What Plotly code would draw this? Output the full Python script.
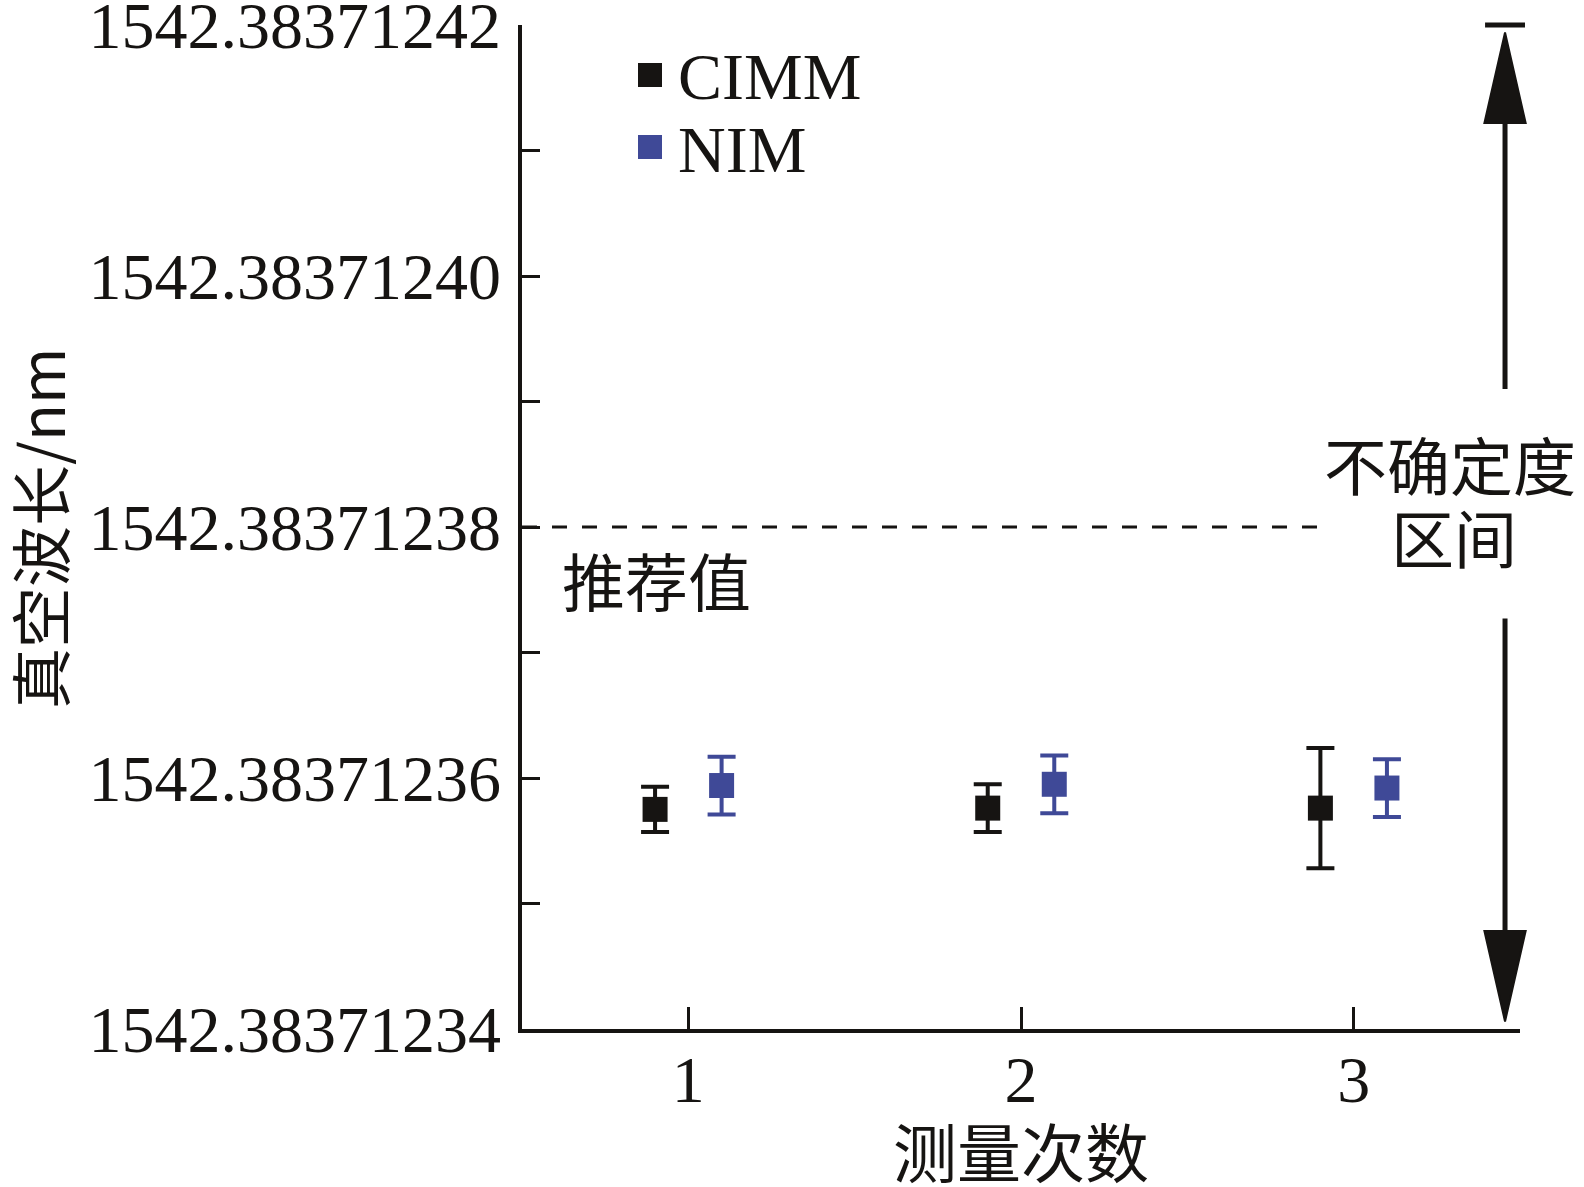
import plotly.graph_objects as go

# ---------------- data ----------------
BASE = 1542.38371234          # nm, bottom of axis
UNIT = 1e-8                   # nm per plotting unit
runs = [1, 2, 3]
cimm_values = [1542.3837123575, 1542.3837123576, 1542.3837123576]
cimm_errors = [0.0000000018, 0.0000000019, 0.0000000048]
nim_values = [1542.3837123594, 1542.3837123595, 1542.3837123592]
nim_errors = [0.0000000023, 0.0000000023, 0.0000000023]
recommended = 1542.38371238
unc_low, unc_high = 1542.38371234, 1542.38371242
ytick_values = [1542.38371234, 1542.38371235, 1542.38371236, 1542.38371237,
                1542.38371238, 1542.38371239, 1542.38371240, 1542.38371241,
                1542.38371242]
ytick_labels = ["1542.38371234", "", "1542.38371236", "", "1542.38371238", "",
                "1542.38371240", "", "1542.38371242"]
xtick_labels = ["1", "2", "3"]
series_names = ["CIMM", "NIM"]

def to_u(v):
    return round((v - BASE) / UNIT, 6)

BLACK = "#161412"
BLUE = "#3f4997"
SERIF = "Liberation Serif, 'Times New Roman', 'Noto Sans CJK SC', serif"
CJK = "'Noto Sans CJK SC', 'Liberation Serif', serif"
FS = 66

W, H = 1584, 1187
ML, MR, MT, MB = 522, 64, 25, 158
PW, PH = W - ML - MR, H - MT - MB

XMIN, XMAX = 0.5, 3.5
YMIN, YMAX = to_u(unc_low), to_u(unc_high)

fig = go.Figure()
fig.add_trace(go.Scatter(
    x=[r - 0.1 for r in runs], y=[to_u(v) for v in cimm_values], mode="markers", name=series_names[0],
    marker=dict(symbol="square", size=25, color=BLACK),
    error_y=dict(type="data", array=[round(e / UNIT, 6) for e in cimm_errors], color=BLACK, thickness=4, width=14),
    cliponaxis=False, showlegend=False))
fig.add_trace(go.Scatter(
    x=[r + 0.1 for r in runs], y=[to_u(v) for v in nim_values], mode="markers", name=series_names[1],
    marker=dict(symbol="square", size=25, color=BLUE),
    error_y=dict(type="data", array=[round(e / UNIT, 6) for e in nim_errors], color=BLUE, thickness=4, width=14),
    cliponaxis=False, showlegend=False))

def px(x):   # data x -> paper
    return (x - XMIN) / (XMAX - XMIN)

def py(y):   # data y (units) -> paper
    return (y - YMIN) / (YMAX - YMIN)

def ppx(p):  # pixel x -> paper
    return (p - ML) / PW

def ppy(p):  # pixel y (from top) -> paper
    return 1 - (p - MT) / PH

shapes = []
# recommended value dashed line
shapes.append(dict(type="line", xref="x", yref="y", x0=XMIN, x1=2.91,
                   y0=to_u(recommended), y1=to_u(recommended),
                   line=dict(color=BLACK, width=3, dash="15px,15px")))
# uncertainty interval arrow
ax_ = 3.455
hw = 0.062   # head half width (x units)
hl = 0.72    # head length (y units)
top = YMAX - 0.06
bot = YMIN + 0.06
shapes.append(dict(type="line", xref="paper", yref="paper", x0=px(ax_ - 0.06), x1=px(ax_ + 0.06),
                   y0=py(YMAX), y1=py(YMAX), line=dict(color=BLACK, width=5)))
shapes.append(dict(type="line", xref="paper", yref="paper", x0=px(ax_), x1=px(ax_),
                   y0=py(top - hl + 0.05), y1=py(5.1), line=dict(color=BLACK, width=5)))
shapes.append(dict(type="line", xref="paper", yref="paper", x0=px(ax_), x1=px(ax_),
                   y0=py(3.27), y1=py(bot + hl - 0.05), line=dict(color=BLACK, width=5)))
shapes.append(dict(type="path", xref="paper", yref="paper",
                   path=f"M {px(ax_)},{py(top)} L {px(ax_ + hw)},{py(top - hl)} L {px(ax_ - hw)},{py(top - hl)} Z",
                   fillcolor=BLACK, line=dict(color=BLACK, width=2)))
shapes.append(dict(type="path", xref="paper", yref="paper",
                   path=f"M {px(ax_)},{py(bot)} L {px(ax_ + hw)},{py(bot + hl)} L {px(ax_ - hw)},{py(bot + hl)} Z",
                   fillcolor=BLACK, line=dict(color=BLACK, width=2)))

# legend (drawn manually to match symbol size / spacing)
legend_rows = [(series_names[0], BLACK, 75), (series_names[1], BLUE, 147)]
for name, col, yc in legend_rows:
    shapes.append(dict(type="rect", xref="paper", yref="paper",
                       x0=ppx(650 - 12), x1=ppx(650 + 12), y0=ppy(yc + 12), y1=ppy(yc - 12),
                       fillcolor=col, line=dict(width=0)))

annotations = [
    dict(text="推荐值", xref="paper", yref="paper", x=ppx(656), y=ppy(578),
         showarrow=False, font=dict(family=CJK, size=63, color=BLACK), xanchor="center", yanchor="middle"),
    dict(text="不确定度", xref="paper", yref="paper", x=ppx(1450), y=ppy(462),
         showarrow=False, font=dict(family=CJK, size=63, color=BLACK), xanchor="center", yanchor="middle"),
    dict(text="区间", xref="paper", yref="paper", x=ppx(1454), y=ppy(535),
         showarrow=False, font=dict(family=CJK, size=63, color=BLACK), xanchor="center", yanchor="middle"),
    dict(text="真空波长/nm", xref="paper", yref="paper", x=ppx(38), y=ppy(528), textangle=-90,
         showarrow=False, font=dict(family=CJK, size=61, color=BLACK), xanchor="center", yanchor="middle"),
    dict(text="测量次数", xref="paper", yref="paper", x=px(2.0), y=ppy(1149),
         showarrow=False, font=dict(family=CJK, size=64, color=BLACK), xanchor="center", yanchor="middle"),
]
for name, col, yc in legend_rows:
    annotations.append(dict(text=name, xref="paper", yref="paper", x=ppx(676), y=ppy(yc + 2),
                            showarrow=False, font=dict(family=SERIF, size=66, color=BLACK),
                            xanchor="left", yanchor="middle"))

fig.update_layout(
    width=W, height=H,
    margin=dict(l=ML, r=MR, t=MT, b=MB, autoexpand=False),
    paper_bgcolor="white", plot_bgcolor="white",
    showlegend=False,
    shapes=shapes, annotations=annotations,
    xaxis=dict(range=[XMIN, XMAX], tickvals=runs, ticktext=xtick_labels, automargin=False,
               showgrid=False, zeroline=False, showline=True, linecolor=BLACK, linewidth=3.5,
               ticks="inside", ticklen=22, tickwidth=2.5, tickcolor=BLACK,
               ticklabelstandoff=-10, ticklabeloverflow="allow",
               tickfont=dict(family=SERIF, size=FS, color=BLACK)),
    yaxis=dict(range=[YMIN, YMAX], tickvals=[to_u(v) for v in ytick_values], ticktext=ytick_labels,
               automargin=False,
               showgrid=False, zeroline=False, showline=True, linecolor=BLACK, linewidth=3.5,
               ticks="inside", ticklen=18, tickwidth=2.5, tickcolor=BLACK,
               ticklabelstandoff=4, ticklabeloverflow="allow",
               tickfont=dict(family=SERIF, size=FS, color=BLACK)),
)

fig.write_html("out.html", config={"displayModeBar": False},
               post_script="document.body.style.margin='0px';")
